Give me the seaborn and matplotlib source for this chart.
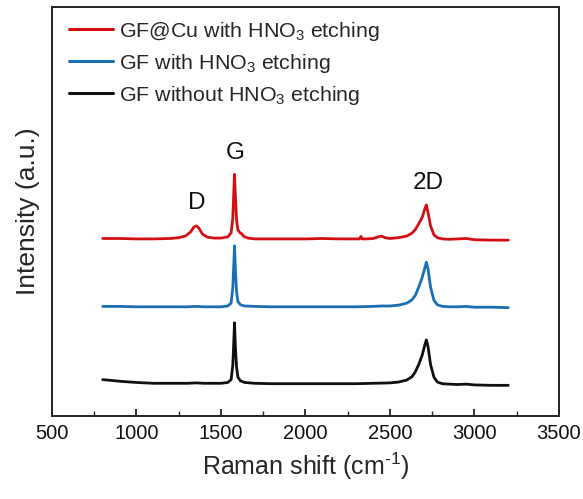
import numpy as np
import pandas as pd
import matplotlib
matplotlib.use("Agg")
import matplotlib.pyplot as plt
import seaborn as sns
from matplotlib.ticker import MultipleLocator

# ---- data (y in arbitrary units, offsets included) ----
x_red = [800, 900, 1000, 1100, 1200, 1250, 1290, 1320, 1340, 1355, 1370, 1390, 1420,
         1460, 1500, 1540, 1560, 1570, 1575, 1580, 1585, 1592, 1600, 1612, 1622, 1635,
         1660, 1700, 1800, 1900, 2000, 2100, 2200, 2300, 2320, 2328, 2336, 2360, 2400,
         2430, 2450, 2470, 2500, 2550, 2600, 2630, 2650, 2670, 2690, 2705, 2715, 2725,
         2740, 2760, 2780, 2810, 2850, 2900, 2950, 3000, 3100, 3200]
y_red = [43.4, 43.4, 43.3, 43.3, 43.4, 43.6, 44.0, 45.0, 46.2, 46.5, 45.9, 44.5, 43.7,
         43.5, 43.5, 43.8, 44.8, 48.5, 54.0, 59.1, 54.0, 48.0, 45.5, 44.8, 44.6, 43.9,
         43.5, 43.3, 43.3, 43.3, 43.3, 43.4, 43.3, 43.3, 43.3, 43.9, 43.3, 43.3, 43.4,
         43.8, 44.0, 43.6, 43.4, 43.6, 44.0, 44.7, 45.6, 47.0, 48.5, 50.5, 51.6, 49.8,
         46.5, 44.3, 43.6, 43.3, 43.2, 43.3, 43.4, 43.1, 43.0, 43.0]

x_blue = [800, 900, 1000, 1100, 1200, 1300, 1350, 1400, 1500, 1540, 1560, 1570, 1575,
          1580, 1585, 1592, 1600, 1615, 1640, 1700, 1800, 1900, 2000, 2100, 2200, 2300,
          2400, 2450, 2500, 2550, 2600, 2630, 2650, 2670, 2690, 2705, 2715, 2725, 2740,
          2760, 2780, 2810, 2850, 2900, 2950, 3000, 3100, 3200]
y_blue = [26.8, 26.8, 26.7, 26.7, 26.7, 26.7, 26.8, 26.7, 26.7, 26.9, 27.6, 31.5, 36.5,
          41.6, 36.0, 30.5, 28.0, 27.2, 26.9, 26.8, 26.7, 26.7, 26.7, 26.7, 26.7, 26.7,
          26.8, 26.9, 26.9, 27.1, 27.6, 28.4, 29.5, 31.5, 33.8, 36.0, 37.6, 36.0, 31.5,
          28.3, 27.2, 26.8, 26.7, 26.7, 26.8, 26.6, 26.6, 26.5]

x_black = [800, 850, 900, 1000, 1100, 1200, 1300, 1350, 1400, 1500, 1540, 1560, 1570,
           1575, 1580, 1585, 1592, 1600, 1615, 1640, 1700, 1800, 1900, 2000, 2100, 2200,
           2300, 2400, 2500, 2550, 2600, 2630, 2650, 2670, 2690, 2705, 2715, 2725, 2740,
           2760, 2780, 2810, 2850, 2900, 2950, 3000, 3100, 3200]
y_black = [8.9, 8.7, 8.5, 8.2, 8.0, 8.0, 8.0, 8.1, 8.0, 8.0, 8.2, 8.9, 12.5,
           17.5, 22.8, 17.0, 12.0, 9.5, 8.6, 8.2, 8.0, 7.9, 7.9, 7.9, 7.9, 7.9,
           7.9, 8.0, 8.1, 8.3, 8.8, 9.6, 10.8, 12.6, 14.8, 17.2, 18.6, 17.0, 12.6,
           9.5, 8.3, 7.9, 7.8, 7.7, 7.8, 7.6, 7.5, 7.5]

labels = ["GF@Cu with HNO$_3$ etching", "GF with HNO$_3$ etching",
          "GF without HNO$_3$ etching"]
colors = ["#d40f14", "#1a6fb4", "#101010"]

peak_names = ["D", "G", "2D"]
peak_x = [1356, 1584, 2727]
peak_y = [52.1, 64.3, 57.0]

xticks = [500, 1000, 1500, 2000, 2500, 3000, 3500]

# ---- build a tidy table ----
frames = []
for xs, ys, lab in [(x_red, y_red, labels[0]), (x_blue, y_blue, labels[1]),
                    (x_black, y_black, labels[2])]:
    frames.append(pd.DataFrame({"shift": xs, "intensity": ys, "sample": lab}))
df = pd.concat(frames, ignore_index=True)

sns.set_style("ticks")
plt.rcParams["font.family"] = ["Liberation Sans", "DejaVu Sans"]
plt.rcParams["mathtext.fontset"] = "custom"
plt.rcParams["mathtext.rm"] = "Liberation Sans"
plt.rcParams["mathtext.it"] = "Liberation Sans:italic"

fig = plt.figure(figsize=(5.83, 4.99), dpi=100)
ax = fig.add_axes([0.0892, 0.1663, 0.8696, 0.8197])

sns.lineplot(data=df, x="shift", y="intensity", hue="sample", hue_order=labels,
             palette=colors, linewidth=2.0, ax=ax, sort=False, estimator=None)

for name, px, py in zip(peak_names, peak_x, peak_y):
    ax.text(px, py, name, ha="center", va="center", fontsize=17.5, color="#111111")

ax.set_xlim(500, 3500)
ax.set_ylim(0, 100)
ax.set_xticks(xticks)
ax.xaxis.set_minor_locator(MultipleLocator(250))
ax.set_yticks([])
ax.tick_params(axis="x", which="major", direction="in", length=5, width=1.2,
               labelsize=14.5, colors="#111111", pad=6)
ax.tick_params(axis="x", which="minor", direction="in", length=3.5, width=1.0)
for s in ax.spines.values():
    s.set_visible(True)
    s.set_linewidth(1.4)
    s.set_color("#222222")

ax.set_xlabel("Raman shift (cm$^{\\text{-1}}$)", fontsize=18, labelpad=5)
ax.set_ylabel("Intensity (a.u.)", fontsize=19, labelpad=9)

leg = ax.legend(loc="upper left", bbox_to_anchor=(0.008, 1.0), frameon=False,
                fontsize=15.4, handlelength=2.05, handletextpad=0.3,
                labelspacing=0.42, borderaxespad=0.2)
for line in leg.get_lines():
    line.set_linewidth(2.2)

fig.savefig("out.png", dpi=100)
